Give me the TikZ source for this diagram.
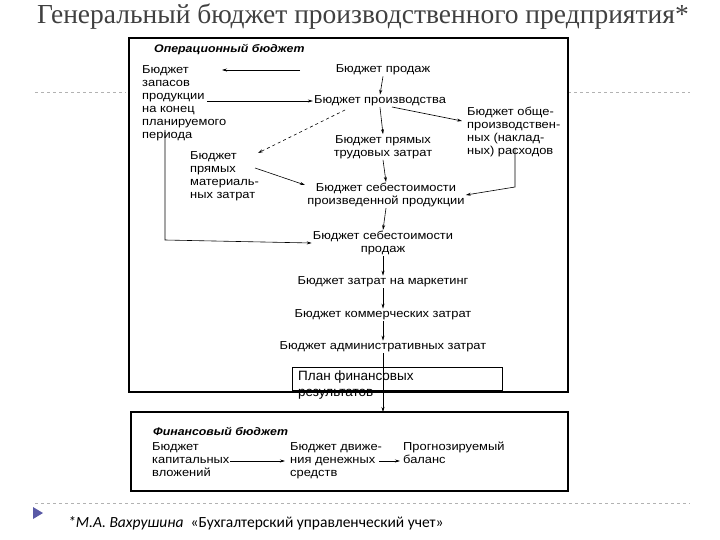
\documentclass[tikz,border=0pt]{standalone}
\usepackage{fontspec}
\setmainfont{Liberation Sans}
\newfontfamily\scan[FakeStretch=1.12]{Liberation Sans}
\newfontfamily\titlefont{Liberation Serif}
\newfontfamily\notefont{Carlito}
\usetikzlibrary{arrows.meta}
\begin{document}
\begin{tikzpicture}[x=1pt,y=-1pt,
  lbl/.style={font=\scan\fontsize{11.5}{13}\selectfont, inner sep=1pt},
  lft/.style={lbl, anchor=north west, align=left},
  ctr/.style={lbl, align=center},
  arr/.style={-{Stealth[length=5pt,width=3pt]}, line width=0.6pt},
  frame/.style={draw, line width=1.1pt},
  dline/.style={draw=gray!60, dashed, line width=0.5pt}]
\useasboundingbox (0,0) rectangle (720,540);
\node[font=\titlefont\fontsize{27.5}{30}\selectfont, text=black!75] (title) at (363,17) {Генеральный бюджет производственного предприятия*};
\draw[dline] (35,92) -- (126,92);
\draw[dline] (568,92) -- (690,92);
\draw[dline] (35,503) -- (690,503);
\draw[frame] (129,38) rectangle (568,392);
\draw[frame] (131,412) rectangle (568,491);
\node[lbl, anchor=west, font=\scan\bfseries\itshape\fontsize{11}{13}\selectfont] (op) at (153,50) {Операционный бюджет};
\node[ctr] (sales) at (383,70) {Бюджет продаж};
\node[lft] (stock) at (141,64) {Бюджет\\запасов\\продукции\\на конец\\планируемого\\периода};
\node[ctr] (prod) at (380,101) {Бюджет производства};
\node[lft] (ovh) at (466,106) {Бюджет обще-\\производствен-\\ных (наклад-\\ных) расходов};
\node[ctr] (lab) at (383,147) {Бюджет прямых\\трудовых затрат};
\node[lft] (mat) at (189,150) {Бюджет\\прямых\\материаль-\\ных затрат};
\node[ctr] (cogm) at (386,195) {Бюджет себестоимости\\произведенной продукции};
\node[ctr] (cogs) at (383,243) {Бюджет себестоимости\\продаж};
\node[ctr] (mkt) at (383,282) {Бюджет затрат на маркетинг};
\node[ctr] (com) at (383,315) {Бюджет коммерческих затрат};
\node[ctr] (adm) at (383,347) {Бюджет административных затрат};
\node[draw, line width=1.1pt, minimum width=210pt, minimum height=23pt, anchor=north west, inner sep=0pt] (plan) at (292,367) {};
\node[lbl, anchor=north west, align=left, font=\fontsize{13.5}{16}\selectfont] (plantext) at (297,370) {План финансовых\\результатов};
\node[lbl, anchor=west, font=\scan\bfseries\itshape\fontsize{11}{13}\selectfont] (fin) at (152,431) {Финансовый бюджет};
\node[lft] (cap) at (151,441) {Бюджет\\капитальных\\вложений};
\node[lft] (cash) at (289,441) {Бюджет движе-\\ния денежных\\средств};
\node[lft] (bal) at (402,441) {Прогнозируемый\\баланс};
\coordinate (a2) at (222,70);
\draw[arr] (300,70) -- (a2);
\draw[arr] (sales.south) -- (prod.north);
\draw[arr] (207,101) -- (prod.west);
\draw[arr, dashed] (345,110) -- (258,153);
\draw[arr] (prod.south) -- (lab.north);
\draw[arr] (392,107) -- (462,121);
\draw[arr] (255,168) -- (305,185);
\draw[arr] (lab.south) -- (cogm.north);
\draw[arr] (515,148) -- (515,187) -- (cogm.east);
\draw[arr] (165,130) -- (165,240) -- (cogs.west);
\draw[arr] (cogm.south) -- (cogs.north);
\draw[arr] (cogs.south) -- (mkt.north);
\draw[arr] (mkt.south) -- (com.north);
\draw[arr] (com.south) -- (adm.north);
\draw[arr] (adm.south) -- (383,412);
\draw[arr] (230,461) -- (285,461);
\draw[arr] (379,461) -- (400,461);
\fill[gray!70!blue] (33,507) -- (43,513) -- (33,519) -- cycle;
\node[anchor=west, font=\notefont\fontsize{15.5}{18}\selectfont, inner sep=0pt] (note) at (68,523) {\itshape *М.А. Вахрушина\upshape\ \ «Бухгалтерский управленческий учет»};
\end{tikzpicture}
\end{document}
